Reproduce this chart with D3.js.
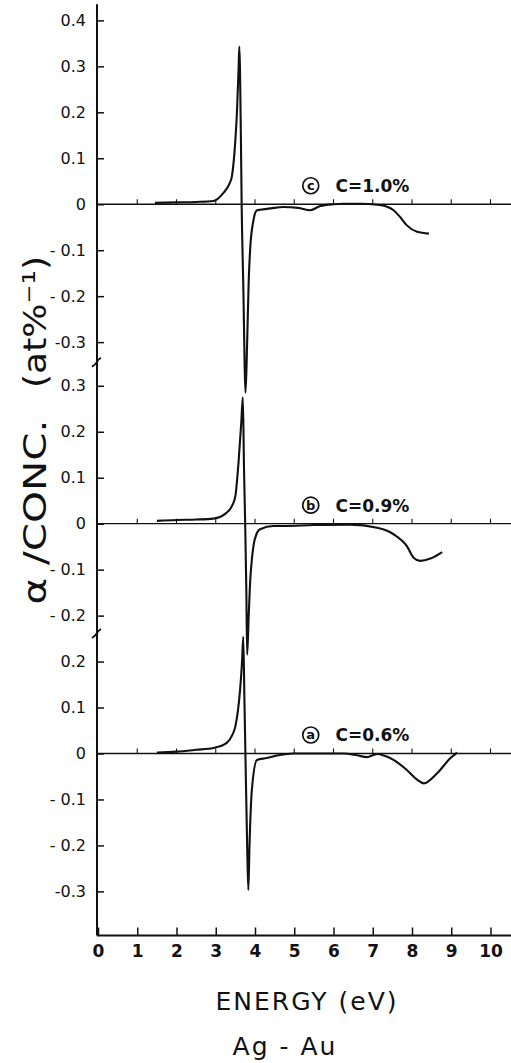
<!DOCTYPE html>
<html>
<head>
<meta charset="utf-8">
<script src="https://cdn.jsdelivr.net/npm/d3@7"></script>
<style>
  html, body { margin: 0; padding: 0; background: #fff; }
  svg { display: block; }
  text { font-family: "DejaVu Sans", sans-serif; fill: #111; }
</style>
</head>
<body>
<svg id="chart" width="511" height="1063"></svg>
<script>
// Ag–Au: absorption per unit concentration vs photon energy, three Au concentrations

// Energy ticks on the common bottom axis (eV)
const energyTicks = [0, 1, 2, 3, 4, 5, 6, 7, 8, 9, 10];

// Panel (c): C = 1.0 %
const energyC = [1.45, 2.0, 2.5, 2.94, 3.19, 3.35, 3.41, 3.5, 3.54, 3.58, 3.6, 3.64, 3.66, 3.7, 3.76, 3.8, 3.84, 3.88, 3.95, 4.05, 4.13, 4.4, 4.72, 5.1, 5.41, 5.66, 6.0, 6.26, 6.7, 7.11, 7.35, 7.53, 7.7, 7.87, 8.13, 8.43];
const valueC  = [0.003, 0.004, 0.005, 0.007, 0.024, 0.045, 0.06, 0.14, 0.2, 0.29, 0.343, 0.15, 0.0, -0.17, -0.41, -0.3, -0.166, -0.093, -0.04, -0.013, -0.012, -0.009, -0.006, -0.008, -0.013, -0.004, 0.0, 0.001, 0.001, -0.001, -0.005, -0.013, -0.028, -0.046, -0.06, -0.064];

// Panel (b): C = 0.9 %
const energyB = [1.5, 2.0, 2.5, 2.94, 3.28, 3.42, 3.5, 3.58, 3.65, 3.69, 3.72, 3.75, 3.78, 3.8, 3.84, 3.88, 3.92, 3.96, 4.05, 4.13, 4.47, 4.73, 5.5, 6.43, 7.11, 7.35, 7.53, 7.87, 8.04, 8.21, 8.47, 8.77];
const valueB  = [0.006, 0.008, 0.009, 0.011, 0.024, 0.04, 0.06, 0.133, 0.22, 0.275, 0.12, 0.0, -0.15, -0.285, -0.2, -0.121, -0.078, -0.049, -0.02, -0.012, -0.005, -0.005, -0.003, -0.002, -0.009, -0.015, -0.023, -0.049, -0.074, -0.081, -0.076, -0.062];

// Panel (a): C = 0.6 %
const energyA = [1.5, 2.0, 2.5, 2.94, 3.28, 3.42, 3.5, 3.62, 3.67, 3.7, 3.73, 3.76, 3.8, 3.83, 3.86, 3.92, 4.05, 4.3, 4.6, 4.98, 5.5, 6.26, 6.6, 6.85, 7.11, 7.3, 7.53, 7.87, 8.13, 8.3, 8.64, 8.98, 9.15];
const valueA  = [0.002, 0.004, 0.008, 0.012, 0.023, 0.04, 0.059, 0.139, 0.2, 0.254, 0.12, -0.02, -0.2, -0.297, -0.2, -0.079, -0.014, -0.01, -0.004, 0.0, 0.0, 0.0, -0.004, -0.008, -0.001, -0.005, -0.014, -0.036, -0.057, -0.065, -0.043, -0.01, 0.002];

// Tick values and labels on each panel's stretch of the vertical axis
const ticksC  = [0.4, 0.3, 0.2, 0.1, 0, -0.1, -0.2, -0.3];
const labelsC = ["0.4", "0.3", "0.2", "0.1", "0", "- 0.1", "- 0.2", "-0.3"];
const ticksB  = [0.3, 0.2, 0.1, 0, -0.1, -0.2];
const labelsB = ["0.3", "0.2", "0.1", "0", "- 0.1", "- 0.2"];
const ticksA  = [0.2, 0.1, 0, -0.1, -0.2, -0.3];
const labelsA = ["0.2", "0.1", "0", "- 0.1", "- 0.2", "-0.3"];

// Panel tags and concentrations, top to bottom
const panelTags  = ["c", "b", "a"];
const panelConcs = ["C=1.0%", "C=0.9%", "C=0.6%"];

// ---- layout ----
const svg = d3.select("#chart");
const axisX = 97, rightEdge = 511;
const plotTop = 4.3, plotBottom = 935.5;
const domains = [[-0.345, 0.435], [-0.24, 0.35], [-0.396, 0.26]];
const span = d3.sum(domains, d => d[1] - d[0]);
const pxPerUnit = (plotBottom - plotTop) / span;

const x = d3.scaleLinear().domain([0, 10]).range([98, 490.5]);

let cursor = plotTop;
const yScales = domains.map(d => {
  const h = (d[1] - d[0]) * pxPerUnit;
  const s = d3.scaleLinear().domain(d).range([cursor + h, cursor]);
  cursor += h;
  return s;
});

const panels = [
  { e: energyC, v: valueC, ticks: ticksC, labels: labelsC },
  { e: energyB, v: valueB, ticks: ticksB, labels: labelsB },
  { e: energyA, v: valueA, ticks: ticksA, labels: labelsA }
];

const ink = "#111";

// vertical axis spine
svg.append("line")
  .attr("x1", axisX).attr("x2", axisX)
  .attr("y1", plotTop).attr("y2", plotBottom)
  .attr("stroke", ink).attr("stroke-width", 2);

// bottom energy axis
const bottomAxis = d3.axisBottom(x).tickValues(energyTicks).tickSize(0).tickPadding(0);
const gx = svg.append("g").attr("transform", `translate(0,${plotBottom})`);
gx.call(bottomAxis);
gx.select(".domain").remove();
gx.append("line").attr("x1", axisX).attr("x2", rightEdge).attr("y1", 0).attr("y2", 0)
  .attr("stroke", ink).attr("stroke-width", 2);
gx.selectAll(".tick line").remove();
gx.selectAll(".tick").append("line")
  .attr("y1", 0).attr("y2", -8).attr("stroke", ink).attr("stroke-width", 1.5);
gx.selectAll(".tick text")
  .attr("y", 9).attr("dy", "0.71em")
  .style("font-family", "DejaVu Sans, sans-serif")
  .style("font-size", "17px").style("font-weight", "bold").attr("fill", ink);

panels.forEach((p, i) => {
  const y = yScales[i];
  const g = svg.append("g");

  // ticks on the vertical axis
  const ax = d3.axisRight(y).tickValues(p.ticks).tickSize(7)
    .tickFormat((d, k) => p.labels[k]);
  const ga = g.append("g").attr("transform", `translate(${axisX},0)`).call(ax);
  ga.select(".domain").remove();
  ga.selectAll(".tick line").attr("stroke", ink).attr("stroke-width", 1.5);
  ga.selectAll(".tick text")
    .attr("x", -11).attr("text-anchor", "end")
    .style("font-family", "DejaVu Sans, sans-serif")
    .style("font-size", "16px").attr("fill", ink);

  // zero line with small energy ticks
  const y0 = y(0);
  g.append("line").attr("x1", axisX).attr("x2", rightEdge)
    .attr("y1", y0).attr("y2", y0)
    .attr("stroke", ink).attr("stroke-width", 1.3);
  g.selectAll(".zt").data(energyTicks.slice(1)).enter().append("line")
    .attr("x1", d => x(d)).attr("x2", d => x(d))
    .attr("y1", y0).attr("y2", y0 - 5)
    .attr("stroke", ink).attr("stroke-width", 1.1);

  // the measured curve
  const pts = p.e.map((e, k) => [e, p.v[k]]);
  const line = d3.line().x(d => x(d[0])).y(d => y(d[1])).curve(d3.curveMonotoneX);
  g.append("path").datum(pts).attr("d", line)
    .attr("fill", "none").attr("stroke", ink)
    .attr("stroke-width", 2.1).attr("stroke-linejoin", "round");

  // circled panel tag and concentration
  const cy = y0 - 18.5;
  const cx = x(5.42);
  g.append("circle").attr("cx", cx).attr("cy", cy).attr("r", 8)
    .attr("fill", "none").attr("stroke", ink).attr("stroke-width", 1.7);
  g.append("text").attr("x", cx).attr("y", cy + 4.5).attr("text-anchor", "middle")
    .style("font-size", "13px").style("font-weight", "bold").text(panelTags[i]);
  g.append("text").attr("x", x(6.05)).attr("y", cy + 6.5)
    .style("font-size", "17px").style("font-weight", "bold").text(panelConcs[i]);
});

// axis breaks between panels
yScales.slice(1).forEach(s => {
  const yb = s.range()[1];
  svg.append("path")
    .attr("d", `M${axisX - 5},${yb + 4} Q${axisX - 1},${yb + 1} ${axisX},${yb - 1} T${axisX + 4},${yb - 5}`)
    .attr("fill", "none").attr("stroke", ink).attr("stroke-width", 1.8);
});

// vertical axis title
const yt = svg.append("g").attr("transform", "translate(46,0) rotate(-90)");
yt.append("text").attr("x", -512).attr("y", 0).attr("text-anchor", "middle")
  .style("font-size", "32px").attr("textLength", 185).attr("lengthAdjust", "spacingAndGlyphs")
  .text("α /CONC.");
yt.append("text").attr("x", -322).attr("y", 0).attr("text-anchor", "middle")
  .style("font-size", "32px").attr("textLength", 132).attr("lengthAdjust", "spacingAndGlyphs")
  .text("(at%\u207B\u00B9)");

// energy axis title and alloy name
svg.append("text").attr("x", 307).attr("y", 1010).attr("text-anchor", "middle")
  .style("font-size", "25px").style("letter-spacing", "2px").text("ENERGY  (eV)");
svg.append("text").attr("x", 285).attr("y", 1055).attr("text-anchor", "middle")
  .style("font-size", "25px").style("letter-spacing", "2px").text("Ag - Au");
</script>
</body>
</html>
